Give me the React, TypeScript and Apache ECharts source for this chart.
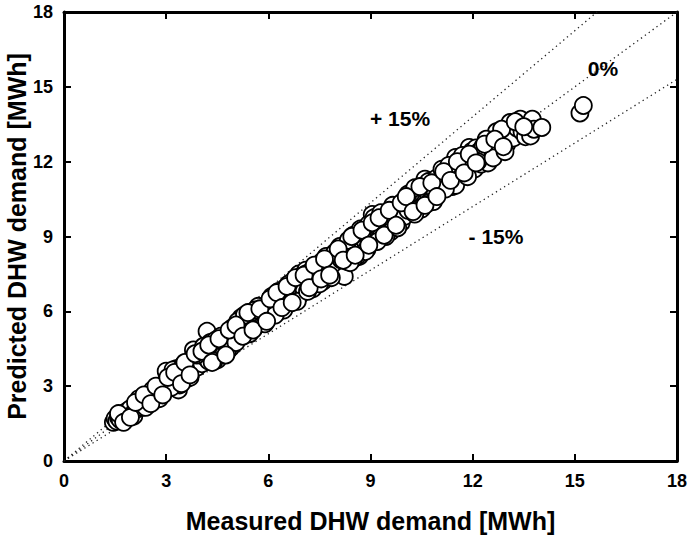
import React, { useEffect, useRef } from "react";
import * as echarts from "echarts";

const measured: number[] = [
  1.45, 1.5, 1.55, 1.6, 1.65, 1.7, 1.75, 1.8, 1.85, 1.9, 1.95, 2.0, 2.05, 2.1, 2.15,
  2.25, 2.3, 2.35, 2.45, 2.5, 2.55, 2.6, 2.65, 2.7, 2.75, 2.8, 2.85, 2.9, 2.95, 2.98,
  3.0, 3.0, 3.1, 3.15, 3.2, 3.25, 3.3, 3.36, 3.4, 3.45, 3.5, 3.5, 3.56, 3.6, 3.65, 3.7, 3.75, 3.8, 3.8, 3.85, 3.9, 3.95, 3.4, 3.6, 3.3,
  4.0, 4.05, 4.1, 4.2, 4.15, 4.2, 4.25, 4.3, 4.35, 4.4, 4.45, 4.5, 4.55, 4.6, 4.65, 4.7, 4.75, 4.8, 4.85, 4.9, 4.95, 4.5, 4.7, 4.9, 4.3,
  5.0, 5.05, 5.1, 5.15, 5.2, 5.25, 5.3, 5.35, 5.4, 5.45, 5.5, 5.55, 5.6, 5.65, 5.7, 5.75, 5.8, 5.85, 5.9, 5.95, 5.3, 5.6, 5.85, 5.5, 5.2,
  6.0, 6.05, 6.1, 6.15, 6.2, 6.25, 6.3, 6.36, 6.4, 6.45, 6.5, 6.55, 6.6, 6.65, 6.7, 6.75, 6.8, 6.85, 6.9, 6.95, 6.3, 6.6, 6.9, 6.5, 6.75,
  7.0, 7.05, 7.1, 7.15, 7.2, 7.25, 7.3, 7.35, 7.4, 7.45, 7.5, 7.58, 7.6, 7.65, 7.7, 7.75, 7.8, 7.88, 7.9, 7.95, 7.3, 7.6, 7.9, 7.4, 7.7,
  8.0, 8.05, 8.1, 8.15, 8.23, 8.2, 8.25, 8.3, 8.35, 8.4, 8.45, 8.5, 8.55, 8.6, 8.67, 8.7, 8.75, 8.8, 8.85, 8.9, 8.95, 8.3, 8.6, 8.9, 8.5,
  9.0, 9.05, 9.05, 9.1, 9.15, 9.2, 9.26, 9.3, 9.35, 9.4, 9.45, 9.5, 9.55, 9.6, 9.65, 9.7, 9.75, 9.8, 9.85, 9.9, 9.95, 9.3, 9.6, 9.9, 10.0,
  10.05, 10.1, 10.15, 10.2, 10.25, 10.3, 10.35, 10.4, 10.45, 10.5, 10.55, 10.6, 10.6, 10.7, 10.75, 10.83, 10.85, 10.9, 10.95, 10.4, 10.7, 10.2,
  11.0, 11.05, 11.1, 11.15, 11.2, 11.25, 11.3, 11.33, 11.4, 11.45, 11.5, 11.5, 11.6, 11.65, 11.7, 11.75, 11.8, 11.85, 11.9, 11.98, 11.4, 11.6,
  12.0, 12.05, 12.1, 12.2, 12.25, 12.3, 12.4, 12.5, 12.6, 12.7, 12.8, 12.9, 13.0, 12.45,
  13.1, 13.1, 13.2, 13.3, 13.4, 13.45, 13.55, 13.6, 13.7, 13.75, 13.8, 14.03,
  15.15, 15.25,
  2.2, 2.4, 2.6, 2.8,
  3.2, 3.5, 3.7, 3.9, 3.15,
  4.1, 4.4, 4.6, 4.8, 4.95, 4.45,
  5.1, 5.3, 5.45, 5.7, 5.9, 5.6, 5.05,
  6.1, 6.3, 6.45, 6.6, 6.85, 6.95, 6.2,
  7.1, 7.3, 7.5, 7.7, 7.85, 7.95, 7.15,
  8.1, 8.35, 8.5, 8.7, 8.85, 8.95, 8.4,
  9.1, 9.3, 9.45, 9.65, 9.8, 9.95, 9.2,
  10.1, 10.3, 10.5, 10.7, 10.85, 10.95, 10.3,
  11.1, 11.3, 11.5, 11.7, 11.85, 11.95, 11.2,
  12.15, 12.4, 12.6, 12.85, 12.95,
  1.6, 1.75, 1.95, 2.1, 2.35, 2.55, 2.7, 2.9, 3.05, 3.25, 3.45, 3.55, 3.7, 3.85,
  4.05, 4.25, 4.35, 4.55, 4.75, 4.85, 5.05, 5.25, 5.4, 5.55, 5.75, 5.95,
  6.05, 6.25, 6.4, 6.55, 6.7, 6.8, 7.05, 7.2, 7.35, 7.55, 7.65, 7.8,
  8.05, 8.2, 8.45, 8.55, 8.75, 8.95, 9.05, 9.25, 9.4, 9.55, 9.75, 9.9,
  10.05, 10.25, 10.45, 10.6, 10.8, 10.95, 11.15, 11.35, 11.55, 11.75, 11.9,
  12.1, 12.35, 12.65, 12.9, 13.25, 13.5,
];

const predicted: number[] = [
  1.55, 1.7, 1.6, 1.75, 1.65, 1.85, 1.9, 1.7, 2.0, 1.95, 2.1, 1.85, 1.8, 2.05, 2.2,
  2.3, 2.15, 2.4, 2.5, 2.35, 2.6, 2.45, 2.75, 2.6, 2.9, 2.7, 2.95, 2.8, 3.05, 2.9,
  3.2, 3.6, 3.0, 3.3, 3.4, 3.1, 3.45, 2.85, 3.6, 3.35, 3.5, 3.2, 3.38, 3.45, 3.8, 3.6, 3.9, 3.7, 4.45, 4.0, 3.75, 3.95, 3.05, 3.3, 3.7,
  4.1, 3.9, 4.3, 5.2, 4.15, 4.45, 4.0, 4.35, 4.6, 4.25, 4.5, 4.7, 4.35, 4.6, 4.8, 4.5, 4.9, 4.65, 5.0, 4.8, 5.1, 4.05, 4.3, 4.55, 4.75,
  5.2, 4.95, 5.35, 5.1, 5.5, 5.25, 5.6, 5.3, 5.7, 5.45, 5.75, 5.5, 5.85, 5.6, 5.9, 5.7, 6.0, 5.75, 6.1, 5.85, 5.05, 5.35, 5.55, 5.95, 5.75,
  6.15, 5.95, 6.3, 6.05, 6.4, 6.2, 6.55, 6.47, 6.6, 6.4, 6.7, 6.45, 6.8, 6.55, 6.9, 6.65, 7.0, 6.75, 7.5, 6.85, 6.0, 6.3, 6.6, 6.95, 7.25,
  7.1, 6.9, 7.65, 7.2, 7.4, 7.05, 7.35, 7.15, 7.5, 7.25, 7.7, 8.0, 7.4, 7.6, 7.85, 7.55, 7.95, 7.95, 8.1, 7.8, 6.9, 7.2, 7.5, 7.8, 8.15,
  8.2, 7.9, 8.35, 8.05, 7.4, 8.5, 8.2, 8.6, 8.3, 8.75, 8.45, 8.8, 8.5, 8.9, 8.2, 9.0, 8.7, 9.1, 8.8, 9.2, 8.9, 8.0, 8.2, 8.5, 9.05,
  9.25, 9.88, 8.95, 9.4, 9.1, 9.5, 9.07, 9.6, 9.3, 9.7, 9.4, 9.8, 9.5, 9.9, 9.6, 10.0, 9.7, 10.1, 9.8, 10.2, 9.9, 9.0, 9.2, 9.55, 9.81,
  10.3, 10.05, 10.45, 10.2, 10.6, 10.3, 10.7, 10.4, 10.75, 10.5, 10.85, 10.6, 11.3, 10.7, 10.95, 10.68, 10.9, 10.75, 11.05, 10.1, 10.35, 10.75,
  11.1, 10.85, 11.3, 11.0, 11.4, 11.15, 11.5, 11.08, 11.6, 11.3, 11.7, 12.17, 11.8, 11.5, 11.4, 11.9, 11.6, 12.0, 12.57, 12.42, 11.0, 12.05,
  12.3, 11.7, 12.55, 12.42, 11.9, 12.6, 12.2, 12.75, 12.4, 13.2, 12.6, 12.9, 12.7, 11.95,
  13.57, 13.17, 12.95, 13.35, 13.7, 13.2, 13.0, 13.45, 13.03, 13.7, 13.3, 13.37,
  13.95, 14.25,
  2.5, 2.15, 2.85, 2.5,
  3.65, 3.85, 3.35, 4.25, 2.95,
  4.6, 4.0, 5.0, 4.4, 5.35, 4.85,
  5.6, 5.85, 5.1, 6.2, 5.5, 6.05, 4.75,
  6.6, 6.8, 6.05, 7.1, 6.4, 7.4, 5.85,
  7.5, 7.7, 7.1, 8.2, 7.35, 8.35, 6.8,
  8.6, 8.85, 8.1, 9.3, 8.4, 9.5, 7.95,
  9.75, 9.95, 9.0, 10.25, 9.35, 10.4, 8.8,
  10.7, 10.95, 10.1, 11.2, 10.4, 11.35, 9.9,
  11.7, 11.85, 11.05, 12.25, 11.4, 12.0, 10.9,
  12.0, 12.9, 12.15, 13.3, 12.4,
  1.9, 1.55, 1.75, 2.35, 2.65, 2.3, 3.0, 2.65, 3.35, 3.55, 3.1, 3.95, 3.45, 4.3,
  4.4, 4.65, 3.95, 4.9, 4.25, 5.25, 5.45, 5.0, 5.95, 5.25, 6.1, 5.6,
  6.5, 6.75, 6.15, 7.0, 6.35, 7.35, 7.45, 6.95, 7.85, 7.3, 8.1, 7.45,
  8.5, 8.05, 9.0, 8.25, 9.25, 8.65, 9.55, 9.75, 9.05, 10.05, 9.45, 10.35,
  10.6, 10.0, 11.0, 10.25, 11.15, 10.6, 11.6, 11.25, 12.0, 11.55, 12.3,
  11.95, 12.7, 12.9, 12.6, 13.6, 13.4,
];

const axisMax = 18;
const tickStep = 3;
const linePlus = 1.15;
const lineMinus = 0.85;
const annotations = ["+ 15%", "0%", "- 15%"];

const FONT = "'Liberation Sans', Arial, sans-serif";

export default function App() {
  const ref = useRef<HTMLDivElement>(null);
  useEffect(() => {
    if (!ref.current) return;
    const chart = echarts.init(ref.current, undefined, { renderer: "svg" });
    const points = measured.map((m, i) => [m, predicted[i]]);
    const axisBase = {
      type: "value",
      min: 0,
      max: axisMax,
      interval: tickStep,
      axisLine: { show: true, onZero: false, lineStyle: { color: "#000", width: 3 } },
      axisTick: { show: true, inside: true, length: 7, lineStyle: { color: "#000", width: 2 } },
      splitLine: { show: false },
    };
    const tickLabel = { color: "#000", fontSize: 18, fontWeight: "bold", fontFamily: FONT, margin: 11 };
    const dotted = { color: "#222", width: 1.3, type: [1.3, 3.5] };
    const annFont = `bold 21px ${FONT}`;
    chart.setOption({
      animation: false,
      backgroundColor: "#fff",
      grid: { left: 64, right: 14, top: 12, bottom: 77, outerBoundsMode: "none", containLabel: false },
      xAxis: [
        {
          ...axisBase,
          position: "bottom",
          axisLabel: tickLabel,
          name: "Measured DHW demand [MWh]",
          nameLocation: "middle",
          nameGap: 47,
          nameMoveOverlap: false,
          nameTextStyle: { color: "#000", fontSize: 25, fontWeight: "bold", fontFamily: FONT },
        },
        { ...axisBase, position: "top", axisLabel: { show: false } },
      ],
      yAxis: [
        {
          ...axisBase,
          position: "left",
          axisLabel: tickLabel,
          name: "Predicted DHW demand [MWh]",
          nameLocation: "middle",
          nameGap: 35,
          nameMoveOverlap: false,
          nameTextStyle: { color: "#000", fontSize: 25, fontWeight: "bold", fontFamily: FONT },
        },
        { ...axisBase, position: "right", axisLabel: { show: false } },
      ],
      series: [
        { type: "line", data: [[0, 0], [axisMax, axisMax]], symbol: "none", lineStyle: dotted, z: 1 },
        { type: "line", data: [[0, 0], [axisMax / linePlus, axisMax]], symbol: "none", lineStyle: dotted, z: 1 },
        { type: "line", data: [[0, 0], [axisMax, axisMax * lineMinus]], symbol: "none", lineStyle: dotted, z: 1 },
        {
          type: "scatter",
          data: points,
          symbol: "circle",
          symbolSize: 17,
          itemStyle: { color: "#fff", borderColor: "#000", borderWidth: 1.8, opacity: 1 },
          z: 3,
        },
      ],
      graphic: [
        { type: "text", x: 400, y: 118, style: { text: annotations[0], fill: "#000", font: annFont, align: "center", verticalAlign: "middle" } },
        { type: "text", x: 603, y: 68, style: { text: annotations[1], fill: "#000", font: annFont, align: "center", verticalAlign: "middle" } },
        { type: "text", x: 496, y: 236, style: { text: annotations[2], fill: "#000", font: annFont, align: "center", verticalAlign: "middle" } },
      ],
    });
    return () => chart.dispose();
  }, []);
  return <div ref={ref} style={{ width: 691, height: 538, position: "absolute", left: 0, top: 0 }} />;
}
